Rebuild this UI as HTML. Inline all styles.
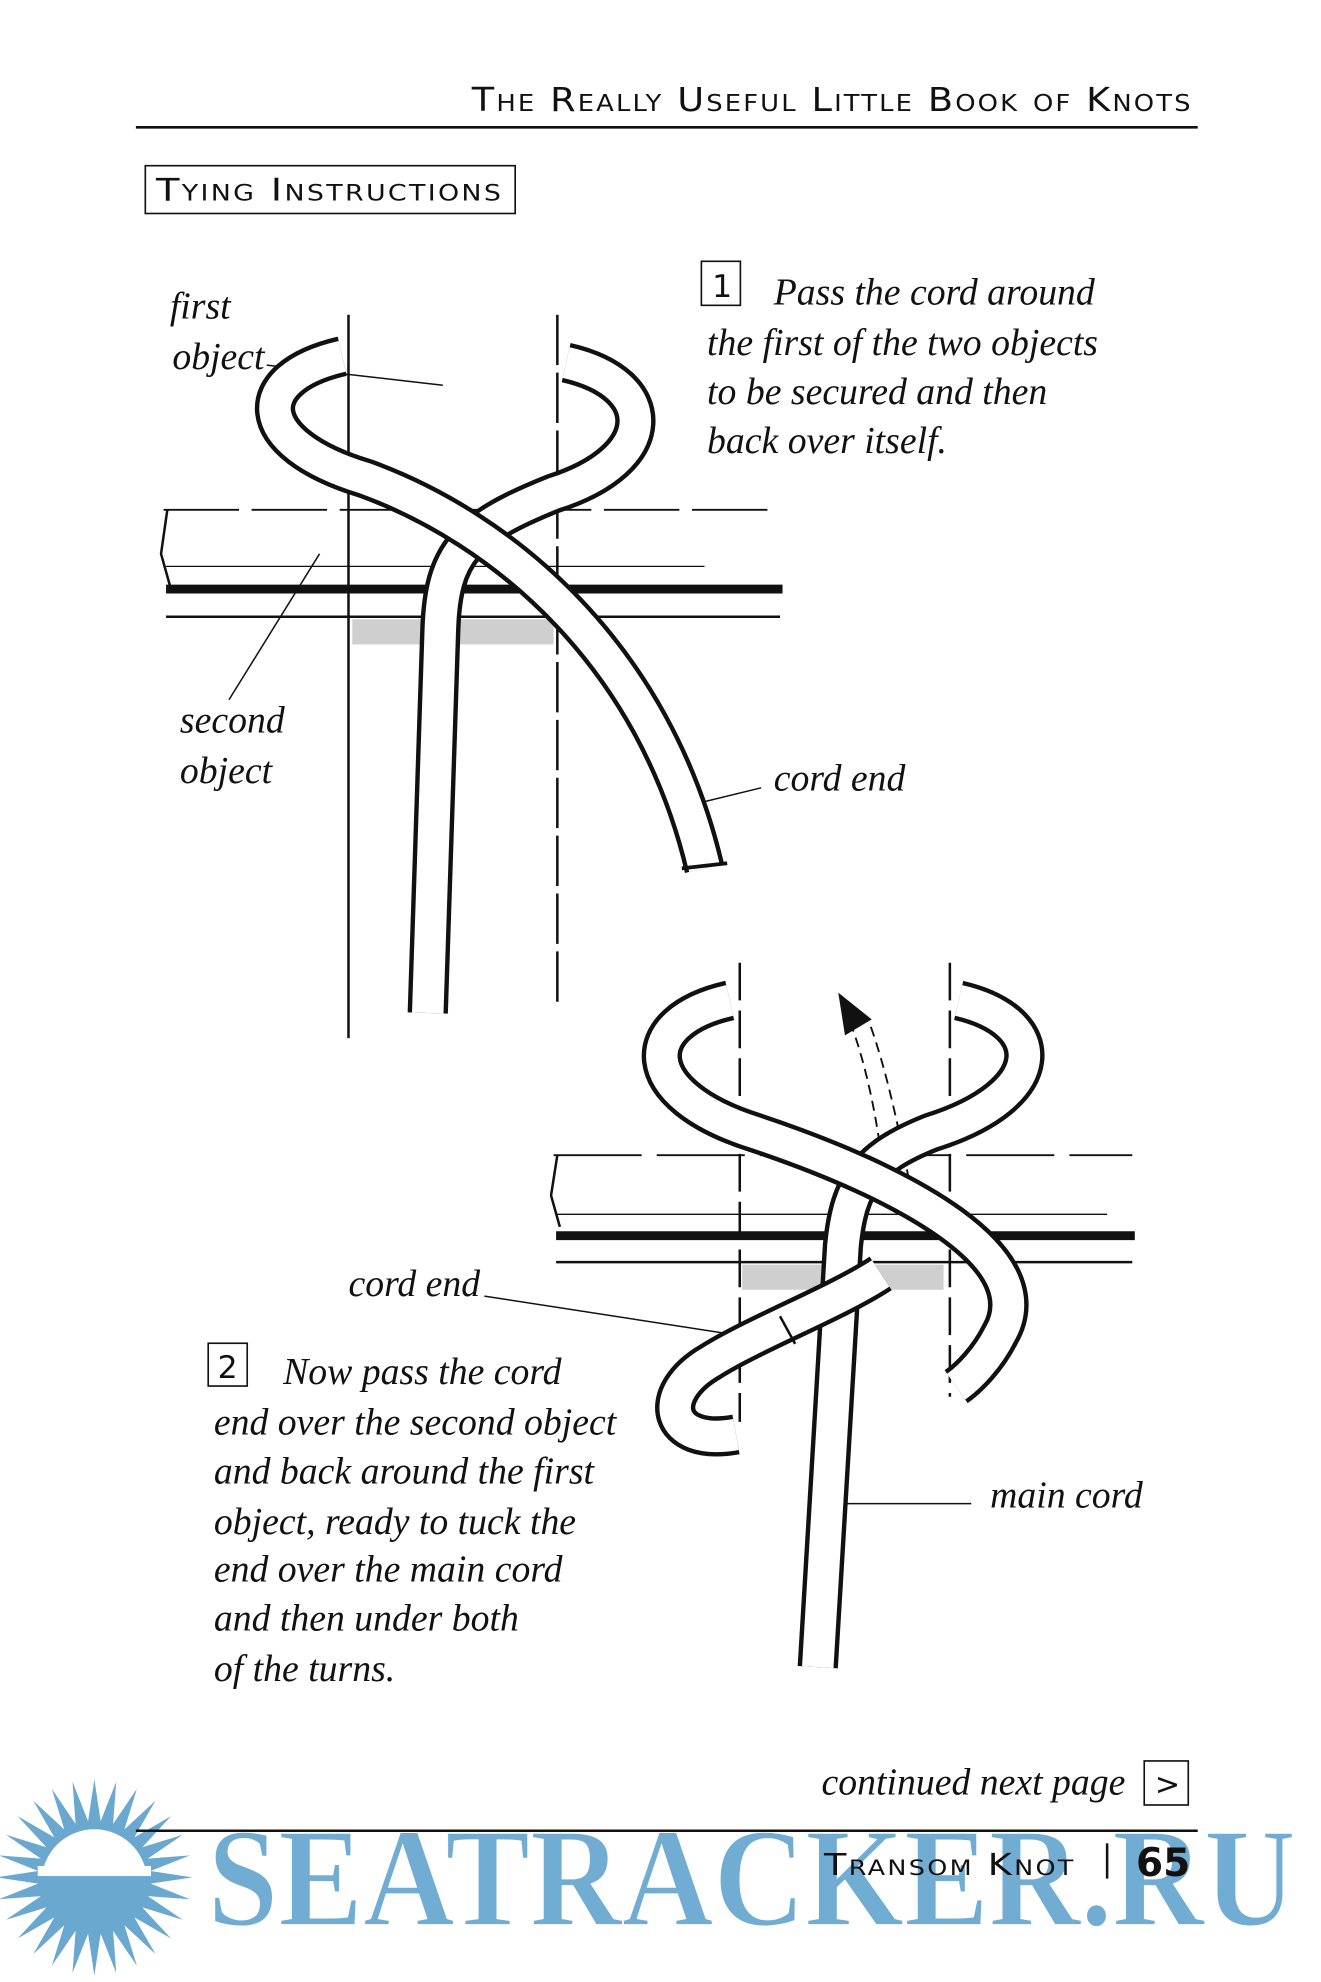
<!DOCTYPE html>
<html><head><meta charset="utf-8"><style>
html,body{margin:0;padding:0;background:#fff}
svg{display:block}
.sc{font-family:"DejaVu Sans","Liberation Sans",sans-serif;font-variant:small-caps;letter-spacing:1.5px}
.it{font-family:"Liberation Serif",serif;font-style:italic;font-size:30px}
</style></head><body>
<svg width="1321" height="1982" viewBox="0 0 1050 1575" xmlns="http://www.w3.org/2000/svg">
<rect width="1050" height="1575" fill="#fff"/>
<!-- header -->
<text class="sc" x="375" y="88" textLength="573" lengthAdjust="spacingAndGlyphs" font-size="26" fill="#111">The Really Useful Little Book of Knots</text>
<line x1="108" y1="101" x2="952" y2="101" stroke="#111" stroke-width="2"/>
<rect x="115.5" y="131.5" width="294" height="38" fill="none" stroke="#111" stroke-width="1.3"/>
<text class="sc" x="124" y="159" textLength="276" lengthAdjust="spacingAndGlyphs" font-size="25" fill="#111">Tying Instructions</text>

<!-- step 1 text -->
<rect x="557.5" y="207.5" width="31" height="35" fill="none" stroke="#111" stroke-width="1.3"/>
<text x="566" y="236" font-family="DejaVu Sans,sans-serif" font-size="25" fill="#111">1</text>
<g class="it" fill="#111">
<text x="615" y="242">Pass the cord around</text>
<text x="562" y="282">the first of the two objects</text>
<text x="562" y="321">to be secured and then</text>
<text x="562" y="360">back over itself.</text>
<text x="135" y="253">first</text>
<text x="137" y="293">object</text>
<text x="143" y="582">second</text>
<text x="143" y="622">object</text>
<text x="615" y="628">cord end</text>
<text x="277" y="1030">cord end</text>
<text x="787" y="1198">main cord</text>
<text x="225" y="1100">Now pass the cord</text>
<text x="170" y="1140">end over the second object</text>
<text x="170" y="1179">and back around the first</text>
<text x="170" y="1219">object, ready to tuck the</text>
<text x="170" y="1257">end over the main cord</text>
<text x="170" y="1296">and then under both</text>
<text x="170" y="1336">of the turns.</text>
<text x="653" y="1426">continued next page</text>
</g>
<rect x="165.5" y="1067.5" width="31" height="34" fill="none" stroke="#111" stroke-width="1.3"/>
<text x="173" y="1095" font-family="DejaVu Sans,sans-serif" font-size="25" fill="#111">2</text>
<rect x="909.5" y="1399.5" width="35" height="35" fill="none" stroke="#111" stroke-width="1.3"/>
<text x="918" y="1426" font-family="DejaVu Sans,sans-serif" font-size="24" fill="#111">&gt;</text>

<!-- diagram 1 -->
<g stroke="#111" fill="none">
<line x1="277" y1="250" x2="277" y2="825" stroke-width="2"/>
<line x1="443" y1="250" x2="443" y2="800" stroke-width="2" stroke-dasharray="40 6"/>
<path d="M130 405 L620 405" stroke-width="1.5" stroke-dasharray="60 10"/>
<path d="M133 405 L128 440 L135 465" stroke-width="2"/>
<line x1="132" y1="468" x2="622" y2="468" stroke-width="7"/>
<line x1="132" y1="490" x2="620" y2="490" stroke-width="2"/>
<line x1="132" y1="450" x2="560" y2="450" stroke-width="1"/>
<rect x="280" y="492" width="160" height="20" fill="#bbb" stroke="none" opacity=".7"/>
<line x1="212" y1="290" x2="352" y2="306" stroke-width="1.2"/>
<line x1="182" y1="556" x2="254" y2="440" stroke-width="1.2"/>
<line x1="556" y1="638" x2="605" y2="626" stroke-width="1.2"/>
</g>
<g fill="none" stroke-linecap="butt">
<path d="M450 288 C525 305,525 365,440 392 C370 420,352 440,350 500 L340 805" stroke="#111" stroke-width="32"/>
<path d="M450 288 C525 305,525 365,440 392 C370 420,352 440,350 500 L340 805" stroke="#fff" stroke-width="25"/>
<path d="M272 283 C198 300,198 352,290 380 C400 420,520 520,560 690" stroke="#111" stroke-width="32"/>
<path d="M272 283 C198 300,198 352,290 380 C400 420,520 520,560 690" stroke="#fff" stroke-width="25"/>
</g>
<line x1="542" y1="690" x2="578" y2="686" stroke="#111" stroke-width="3"/>

<!-- diagram 2 -->
<g stroke="#111" fill="none">
<line x1="588" y1="765" x2="588" y2="1130" stroke-width="2" stroke-dasharray="30 8"/>
<line x1="755" y1="765" x2="755" y2="1110" stroke-width="2" stroke-dasharray="30 8"/>
<path d="M440 918 L900 918" stroke-width="1.5" stroke-dasharray="70 12"/>
<path d="M443 918 L438 950 L445 975" stroke-width="2"/>
<line x1="442" y1="982" x2="902" y2="982" stroke-width="7"/>
<line x1="442" y1="1003" x2="900" y2="1003" stroke-width="2"/>
<line x1="442" y1="965" x2="880" y2="965" stroke-width="1"/>
<rect x="590" y="1005" width="160" height="20" fill="#bbb" stroke="none" opacity=".7"/>
<path d="M705 960 C700 900,690 850,675 810 M725 950 C715 900,705 850,690 810" stroke-width="1.5" stroke-dasharray="8 5"/>
<path d="M667 790 L672 822 L692 810 Z" fill="#111"/>
<line x1="385" y1="1030" x2="618" y2="1066" stroke-width="1.2"/>
<line x1="672" y1="1195" x2="772" y2="1195" stroke-width="1.2"/>
</g>
<g fill="none">
<path d="M762 795 C835 812,835 870,740 900 C690 920,675 940,670 990 L650 1325" stroke="#111" stroke-width="32"/>
<path d="M762 795 C835 812,835 870,740 900 C690 920,675 940,670 990 L650 1325" stroke="#fff" stroke-width="25"/>
<path d="M580 795 C505 812,505 870,600 900 C720 940,830 1000,795 1060 C785 1080,770 1095,760 1102" stroke="#111" stroke-width="32"/>
<path d="M580 795 C505 812,505 870,600 900 C720 940,830 1000,795 1060 C785 1080,770 1095,760 1102" stroke="#fff" stroke-width="25"/>
<path d="M700 1012 C665 1035,600 1060,565 1082 C520 1108,530 1150,585 1140" stroke="#111" stroke-width="32"/>
<path d="M700 1012 C665 1035,600 1060,565 1082 C520 1108,530 1150,585 1140" stroke="#fff" stroke-width="25"/>
</g>
<line x1="620" y1="1046" x2="632" y2="1068" stroke="#111" stroke-width="2"/>

<!-- watermark -->
<polygon id="sun" fill="#6aa8d0"/>
<circle cx="75" cy="1492" r="42" fill="#6aa8d0"/>
<rect x="30" y="1483" width="90" height="8" fill="#fff"/>
<path d="M35 1483 A42 42 0 0 1 115 1483 Z" fill="#fff"/>
<text x="165" y="1530" font-family="Liberation Serif,serif" font-weight="bold" font-size="112" textLength="865" lengthAdjust="spacingAndGlyphs" fill="#6aa8d0" stroke="#fff" stroke-width="1.5" opacity=".95">SEATRACKER.RU</text>

<!-- footer (on top of watermark) -->
<line x1="108" y1="1455" x2="952" y2="1455" stroke="#111" stroke-width="2"/>
<text class="sc" x="655" y="1490" textLength="200" lengthAdjust="spacingAndGlyphs" font-size="24" fill="#111">Transom Knot</text>
<line x1="880" y1="1465" x2="880" y2="1493" stroke="#111" stroke-width="2"/>
<text x="903" y="1491" font-family="DejaVu Sans,sans-serif" font-weight="bold" font-size="31" fill="#111">65</text>
</svg>
<script>
var p=[],cx=75,cy=1492,n=28;
for(var i=0;i<2*n;i++){var a=Math.PI*i/n,r=i%2?45:78;p.push((cx+r*Math.cos(a)).toFixed(1)+","+(cy+r*Math.sin(a)).toFixed(1));}
document.getElementById("sun").setAttribute("points",p.join(" "));
</script>
</body></html>
